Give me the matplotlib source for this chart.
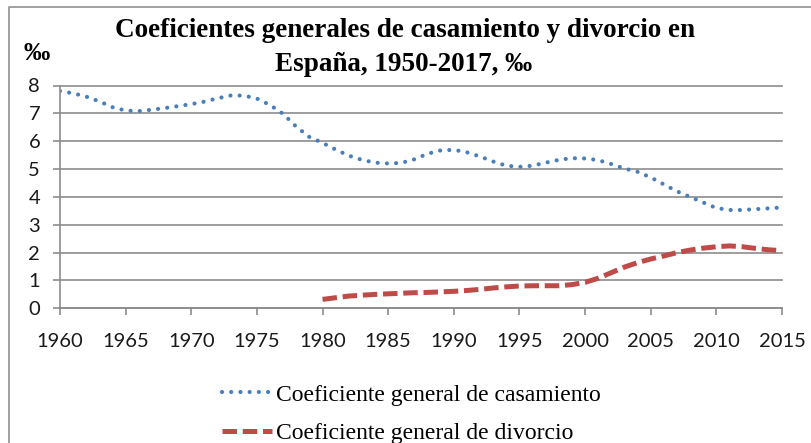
import matplotlib
matplotlib.use("Agg")
import matplotlib.pyplot as plt
from matplotlib import font_manager
from matplotlib.lines import Line2D

years = list(range(1960, 2016))
casamiento = [7.80, 7.72, 7.60, 7.43, 7.22, 7.10, 7.08, 7.13, 7.19, 7.26,
              7.33, 7.42, 7.54, 7.64, 7.64, 7.53, 7.30, 6.98, 6.52, 6.15,
              5.94, 5.70, 5.48, 5.33, 5.23, 5.20, 5.22, 5.35, 5.55, 5.67,
              5.69, 5.60, 5.45, 5.27, 5.12, 5.08, 5.12, 5.23, 5.33, 5.39,
              5.38, 5.32, 5.18, 5.02, 4.90, 4.70, 4.45, 4.20, 4.00, 3.80,
              3.60, 3.53, 3.53, 3.56, 3.59, 3.62]
div_years = list(range(1980, 2016))
divorcio = [0.32, 0.38, 0.44, 0.47, 0.50, 0.52, 0.54, 0.56, 0.57, 0.59,
            0.61, 0.64, 0.68, 0.73, 0.77, 0.80, 0.81, 0.81, 0.81, 0.85,
            0.93, 1.08, 1.28, 1.48, 1.64, 1.77, 1.88, 2.00, 2.09, 2.16,
            2.21, 2.24, 2.21, 2.15, 2.10, 2.07]
xticks = list(range(1960, 2016, 5))
yticks = list(range(0, 9))
title_lines = ["Coeficientes generales de casamiento y divorcio en",
               "España, 1950-2017, ‰"]
ylabel = "‰"
labels = ["Coeficiente general de casamiento", "Coeficiente general de divorcio"]


def pick(fams):
    for f in fams:
        try:
            font_manager.findfont(f, fallback_to_default=False)
            return f
        except Exception:
            pass
    return "DejaVu Sans"


tickfont = pick(["Liberation Sans Narrow", "Lato", "Roboto"])
narrow = tickfont == "Liberation Sans Narrow"
tsize = 16.5 if narrow else 14.5
serif = ["Liberation Serif", "DejaVu Serif"]

W, H = 811, 443
fig = plt.figure(figsize=(W / 100, H / 100), dpi=100)
ax = fig.add_axes([60 / W, 1 - 308.3 / H, (782 - 60) / W, (308.3 - 85.5) / H])

blue = "#4a7ebb"
red = "#be4b48"
gridc = "#8c8c8c"

ax.plot(years, casamiento, color=blue, lw=3.0, linestyle=(0, (0.01, 2.2)),
        dash_capstyle="round", solid_capstyle="round", label=labels[0])
ax.plot(div_years, divorcio, color=red, lw=3.6, linestyle=(0, (2.9, 1.15)),
        dash_capstyle="butt", label=labels[1])

ax.set_xlim(1960, 2015)
ax.set_ylim(0, 8)
ax.set_xticks(xticks)
ax.set_yticks(yticks)
ax.grid(axis="y", color=gridc, lw=1.2)
for g in ax.get_ygridlines():
    g.set_clip_on(False)
ax.set_axisbelow(True)
for s in ["top", "right"]:
    ax.spines[s].set_visible(False)
for s in ["left", "bottom"]:
    ax.spines[s].set_color(gridc)
    ax.spines[s].set_linewidth(1.2)
ax.tick_params(axis="both", colors=gridc, width=1.2, length=4.8,
               labelcolor="#1a1a1a", labelsize=tsize)
ax.tick_params(axis="y", pad=9.5)
ax.tick_params(axis="x", pad=13)
for lab in ax.get_xticklabels() + ax.get_yticklabels():
    lab.set_family(tickfont)

fig.text(405 / W, 1 - 37 / H, title_lines[0], ha="center", va="baseline",
         family=serif, fontweight="bold", fontsize=19.5)
fig.text(404 / W, 1 - 71 / H, title_lines[1], ha="center", va="baseline",
         family=serif, fontweight="bold", fontsize=19.5)
fig.text(24 / W, 1 - 60 / H, ylabel, ha="left", va="baseline", family=serif,
         fontweight="bold", fontsize=19)

leg = fig.legend(loc="upper left", bbox_to_anchor=(222 / W, 1 - 384 / H),
                 frameon=False, prop={"family": serif, "size": 17},
                 handlelength=2.1, handletextpad=0.2, labelspacing=0.72,
                 borderpad=0, borderaxespad=0)

# outer frame (top and left edges visible)
fig.add_artist(Line2D([9 / W, 9 / W, 1], [0, 1 - 7 / H, 1 - 7 / H],
                      transform=fig.transFigure, color="#9a9a9a", lw=1.3))

fig.savefig("out.png", dpi=100)
